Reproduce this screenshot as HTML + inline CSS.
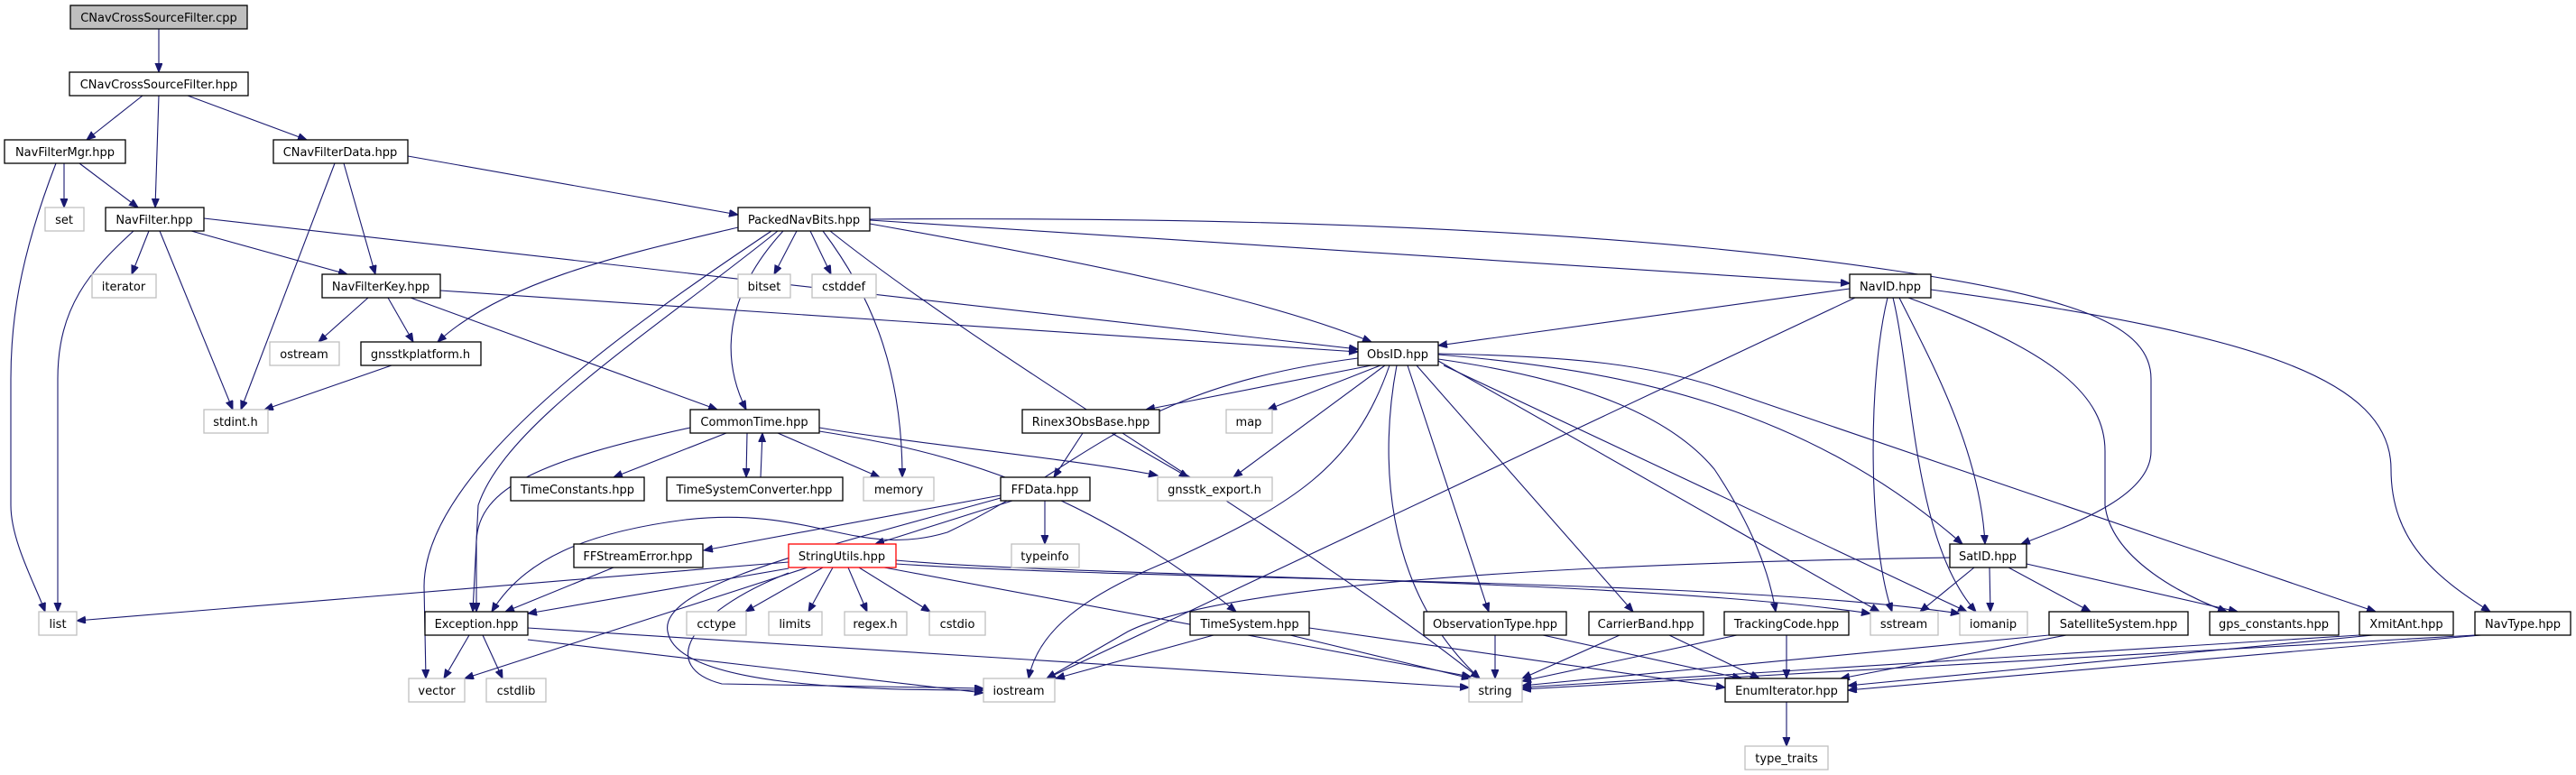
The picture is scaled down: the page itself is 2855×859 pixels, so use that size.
<!DOCTYPE html>
<html><head><meta charset="utf-8"><style>
html,body{margin:0;padding:0;background:#fff;}
svg{display:block;}
text{font-family:"DejaVu Sans","Liberation Sans",sans-serif;font-size:13px;text-anchor:middle;fill:#000;}
.n{fill:#fff;stroke:#000;stroke-width:1.3;}
.g{fill:#fff;stroke:#bfbfbf;stroke-width:1.3;}
.e path{fill:none;stroke:#191970;stroke-width:1.1;marker-end:url(#a);}
</style></head><body>
<svg width="2855" height="859" viewBox="0 0 2855 859" xmlns="http://www.w3.org/2000/svg">
<defs><marker id="a" markerUnits="userSpaceOnUse" markerWidth="11" markerHeight="9" refX="10" refY="4" orient="auto"><path d="M0,0 L10,4 L0,8 z" fill="#191970" stroke="#191970"/></marker></defs>
<g class="e">
<path d="M176,32 L176,80"/>
<path d="M158,106 L96,155"/>
<path d="M176,106 L172,230"/>
<path d="M208,106 L340,155"/>
<path d="M71,181 L71,230"/>
<path d="M88,181 L153,230"/>
<path d="M62,181 C20,290 12,360 12,420 L12,560 C12,600 40,650 50,678"/>
<path d="M148,256 C100,300 64,340 64,420 L64,678"/>
<path d="M165,256 L146,304"/>
<path d="M177,256 L258,454"/>
<path d="M371,181 L267,454"/>
<path d="M381,181 L416,304"/>
<path d="M452,173 L818,238"/>
<path d="M212,256 L385,304"/>
<path d="M226,242 L1505,387"/>
<path d="M408,330 L353,379"/>
<path d="M430,330 L458,379"/>
<path d="M455,330 L795,454"/>
<path d="M488,322 L1505,390"/>
<path d="M434,405 L293,454"/>
<path d="M818,252 C700,280 560,310 485,379"/>
<path d="M855,256 C700,360 470,520 470,650 L472,752"/>
<path d="M862,256 C720,370 560,470 530,560 L524,678"/>
<path d="M868,256 C800,330 800,400 827,454"/>
<path d="M883,256 L858,304"/>
<path d="M898,256 L921,304"/>
<path d="M912,256 C960,320 1000,400 1000,529"/>
<path d="M920,256 C1100,400 1450,600 1640,752"/>
<path d="M964,248 C1200,290 1400,330 1520,379"/>
<path d="M964,244 L2050,314"/>
<path d="M964,243 C1400,240 1800,255 2100,300 C2300,330 2384,360 2384,420 L2384,500 C2384,550 2300,580 2240,603"/>
<path d="M765,474 C600,510 530,540 528,600 L528,678"/>
<path d="M805,480 L680,529"/>
<path d="M828,480 L827,529"/>
<path d="M843,529 L845,480"/>
<path d="M862,480 L975,529"/>
<path d="M908,474 C1000,490 1200,510 1283,527"/>
<path d="M908,478 C1050,500 1200,540 1370,678"/>
<path d="M2050,320 L1594,383"/>
<path d="M2056,330 L1160,752"/>
<path d="M2092,330 C2070,420 2070,600 2097,678"/>
<path d="M2098,330 C2120,420 2120,600 2190,678"/>
<path d="M2105,330 C2140,400 2195,500 2200,603"/>
<path d="M2115,330 C2280,390 2333,440 2333,500 L2333,560 C2340,620 2420,660 2468,678"/>
<path d="M2140,321 C2500,370 2650,420 2650,520 C2650,600 2700,640 2760,678"/>
<path d="M1520,405 L1270,454"/>
<path d="M1530,405 L1405,454"/>
<path d="M1535,405 L1367,529"/>
<path d="M1505,397 C1250,430 1200,520 1050,590 C950,620 900,560 760,576 C650,590 580,620 545,678"/>
<path d="M1540,405 C1500,520 1430,560 1300,620 C1200,660 1150,700 1140,752"/>
<path d="M1548,405 C1530,500 1530,650 1640,752"/>
<path d="M1560,405 L1650,678"/>
<path d="M1570,405 L1810,678"/>
<path d="M1594,398 C1750,420 1850,460 1900,520 C1940,580 1960,630 1968,678"/>
<path d="M1594,400 L2083,678"/>
<path d="M1600,405 L2180,678"/>
<path d="M1594,393 C1800,410 2000,450 2175,603"/>
<path d="M1594,392 C1750,395 1830,405 1906,430 L2633,678"/>
<path d="M1200,480 L1168,529"/>
<path d="M1232,480 L1317,529"/>
<path d="M1109,549 L780,610"/>
<path d="M1122,555 L970,603"/>
<path d="M1158,555 L1158,603"/>
<path d="M1109,552 C900,610 730,650 740,700 C750,760 950,765 1090,765"/>
<path d="M680,629 L560,678"/>
<path d="M874,623 L85,688"/>
<path d="M874,630 L585,680"/>
<path d="M895,629 L515,752"/>
<path d="M912,629 L826,678"/>
<path d="M923,629 L896,678"/>
<path d="M940,629 L961,678"/>
<path d="M952,629 L1031,678"/>
<path d="M874,635 C760,680 730,740 800,758 L1090,763"/>
<path d="M980,629 L1630,750"/>
<path d="M993,621 C1200,640 1800,640 2073,680"/>
<path d="M993,625 C1300,645 1900,640 2172,680"/>
<path d="M520,704 L492,752"/>
<path d="M535,704 L557,752"/>
<path d="M585,709 L1090,768"/>
<path d="M585,696 L1628,762"/>
<path d="M1345,704 L1170,752"/>
<path d="M1430,704 L1630,752"/>
<path d="M1451,696 L1912,762"/>
<path d="M1657,704 L1657,752"/>
<path d="M1710,704 L1930,752"/>
<path d="M1795,704 L1687,752"/>
<path d="M1850,704 L1950,752"/>
<path d="M1925,704 L1687,755"/>
<path d="M1980,704 L1980,752"/>
<path d="M2161,618 C1700,625 1350,650 1250,700 L1160,752"/>
<path d="M2188,629 L2128,678"/>
<path d="M2205,629 L2206,678"/>
<path d="M2226,629 L2317,678"/>
<path d="M2246,625 L2480,678"/>
<path d="M2271,704 L1687,760"/>
<path d="M2290,704 L2040,752"/>
<path d="M2615,704 L1687,762"/>
<path d="M2630,704 L2048,760"/>
<path d="M2743,704 L1687,764"/>
<path d="M2750,704 L2048,765"/>
<path d="M1980,778 L1980,827"/>
</g>
<g>
<rect x="78" y="6" width="196" height="26" fill="#bfbfbf" stroke="#000" stroke-width="1.3"/><text x="176" y="24">CNavCrossSourceFilter.cpp</text>
<rect class="n" x="77" y="80" width="198" height="26"/><text x="176" y="98">CNavCrossSourceFilter.hpp</text>
<rect class="n" x="5" y="155" width="134" height="26"/><text x="72" y="173">NavFilterMgr.hpp</text>
<rect class="n" x="303" y="155" width="149" height="26"/><text x="377" y="173">CNavFilterData.hpp</text>
<rect class="g" x="50" y="230" width="43" height="26"/><text x="71" y="248">set</text>
<rect class="n" x="117" y="230" width="109" height="26"/><text x="171" y="248">NavFilter.hpp</text>
<rect class="n" x="818" y="230" width="146" height="26"/><text x="891" y="248">PackedNavBits.hpp</text>
<rect class="g" x="102" y="304" width="71" height="26"/><text x="137" y="322">iterator</text>
<rect class="n" x="357" y="304" width="131" height="26"/><text x="422" y="322">NavFilterKey.hpp</text>
<rect class="g" x="818" y="304" width="58" height="26"/><text x="847" y="322">bitset</text>
<rect class="g" x="900" y="304" width="71" height="26"/><text x="935" y="322">cstddef</text>
<rect class="n" x="2050" y="304" width="90" height="26"/><text x="2095" y="322">NavID.hpp</text>
<rect class="g" x="299" y="379" width="77" height="26"/><text x="337" y="397">ostream</text>
<rect class="n" x="400" y="379" width="133" height="26"/><text x="466" y="397">gnsstkplatform.h</text>
<rect class="n" x="1505" y="379" width="89" height="26"/><text x="1549" y="397">ObsID.hpp</text>
<rect class="g" x="226" y="454" width="71" height="26"/><text x="261" y="472">stdint.h</text>
<rect class="n" x="765" y="454" width="143" height="26"/><text x="836" y="472">CommonTime.hpp</text>
<rect class="n" x="1133" y="454" width="152" height="26"/><text x="1209" y="472">Rinex3ObsBase.hpp</text>
<rect class="g" x="1359" y="454" width="51" height="26"/><text x="1384" y="472">map</text>
<rect class="n" x="566" y="529" width="148" height="26"/><text x="640" y="547">TimeConstants.hpp</text>
<rect class="n" x="739" y="529" width="195" height="26"/><text x="836" y="547">TimeSystemConverter.hpp</text>
<rect class="g" x="957" y="529" width="78" height="26"/><text x="996" y="547">memory</text>
<rect class="n" x="1109" y="529" width="99" height="26"/><text x="1158" y="547">FFData.hpp</text>
<rect class="g" x="1283" y="529" width="127" height="26"/><text x="1346" y="547">gnsstk_export.h</text>
<rect class="n" x="636" y="603" width="143" height="26"/><text x="707" y="621">FFStreamError.hpp</text>
<rect x="874" y="603" width="119" height="26" fill="#fff" stroke="#ff0000" stroke-width="1.3"/><text x="933" y="621">StringUtils.hpp</text>
<rect class="g" x="1121" y="603" width="75" height="26"/><text x="1158" y="621">typeinfo</text>
<rect class="n" x="2161" y="603" width="85" height="26"/><text x="2203" y="621">SatID.hpp</text>
<rect class="g" x="43" y="678" width="42" height="26"/><text x="64" y="696">list</text>
<rect class="n" x="471" y="678" width="114" height="26"/><text x="528" y="696">Exception.hpp</text>
<rect class="g" x="761" y="678" width="66" height="26"/><text x="794" y="696">cctype</text>
<rect class="g" x="852" y="678" width="59" height="26"/><text x="881" y="696">limits</text>
<rect class="g" x="936" y="678" width="69" height="26"/><text x="970" y="696">regex.h</text>
<rect class="g" x="1030" y="678" width="62" height="26"/><text x="1061" y="696">cstdio</text>
<rect class="n" x="1319" y="678" width="132" height="26"/><text x="1385" y="696">TimeSystem.hpp</text>
<rect class="n" x="1578" y="678" width="158" height="26"/><text x="1657" y="696">ObservationType.hpp</text>
<rect class="n" x="1761" y="678" width="127" height="26"/><text x="1824" y="696">CarrierBand.hpp</text>
<rect class="n" x="1911" y="678" width="138" height="26"/><text x="1980" y="696">TrackingCode.hpp</text>
<rect class="g" x="2073" y="678" width="75" height="26"/><text x="2110" y="696">sstream</text>
<rect class="g" x="2172" y="678" width="75" height="26"/><text x="2209" y="696">iomanip</text>
<rect class="n" x="2271" y="678" width="154" height="26"/><text x="2348" y="696">SatelliteSystem.hpp</text>
<rect class="n" x="2449" y="678" width="143" height="26"/><text x="2520" y="696">gps_constants.hpp</text>
<rect class="n" x="2615" y="678" width="104" height="26"/><text x="2667" y="696">XmitAnt.hpp</text>
<rect class="n" x="2743" y="678" width="106" height="26"/><text x="2796" y="696">NavType.hpp</text>
<rect class="g" x="453" y="752" width="62" height="26"/><text x="484" y="770">vector</text>
<rect class="g" x="539" y="752" width="66" height="26"/><text x="572" y="770">cstdlib</text>
<rect class="g" x="1090" y="752" width="79" height="26"/><text x="1129" y="770">iostream</text>
<rect class="g" x="1628" y="752" width="59" height="26"/><text x="1657" y="770">string</text>
<rect class="n" x="1912" y="752" width="136" height="26"/><text x="1980" y="770">EnumIterator.hpp</text>
<rect class="g" x="1934" y="827" width="92" height="26"/><text x="1980" y="845">type_traits</text>
</g>
</svg>
</body></html>
